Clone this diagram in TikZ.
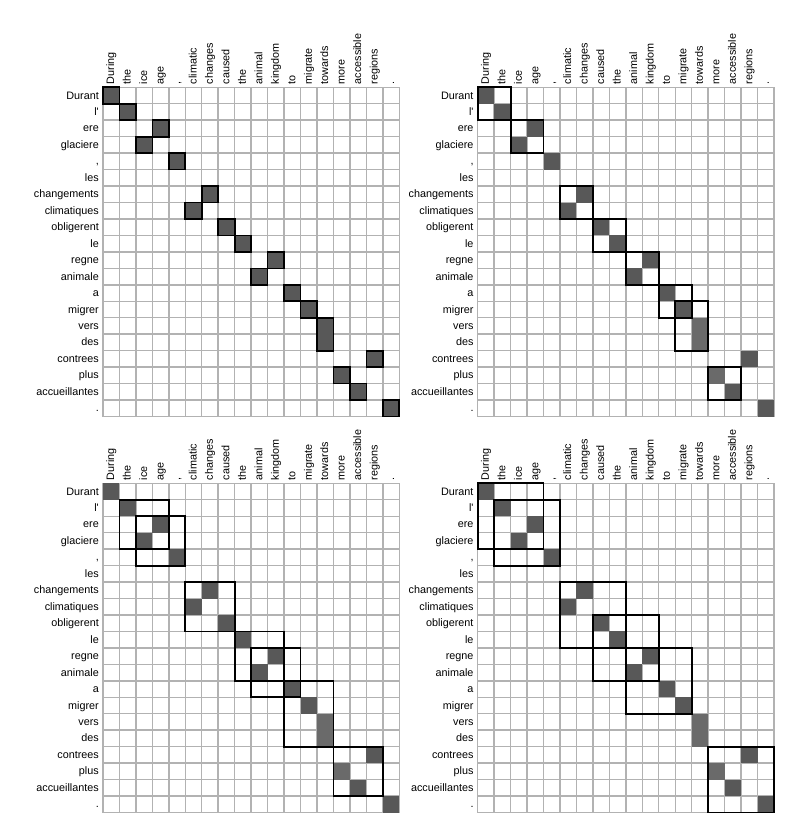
\documentclass[tikz,border=0pt]{standalone}
\usepackage{fontspec}
\setmainfont{Liberation Sans}[Ligatures=TeXOff]
\definecolor{gridgray}{HTML}{B2B2B2}
\definecolor{cellgray}{HTML}{585858}
\definecolor{lightcell}{HTML}{6A6A6A}
\newcommand\cellsz{16.46}
\tikzset{
  gridline/.style={draw=gridgray, line width=1.45pt},
  darkcell/.style={fill=cellgray},
  softcell/.style={fill=lightcell},
  boxedcell/.style={fill=cellgray, draw=black, line width=1.7pt},
  phrasebox/.style={draw=black, line width=1.8pt},
  rowlab/.style={anchor=base east, inner sep=0pt, font=\fontsize{10.8pt}{13pt}\selectfont},
  collab/.style={anchor=base west, rotate=90, inner sep=0pt, font=\fontsize{10.8pt}{13pt}\selectfont},
}
% grid + labels of one panel: #1 prefix, #2 x, #3 y
\newcommand\drawpanel[3]{%
  \begin{scope}[shift={(#2,#3)}]
    \foreach \i in {0,...,18} \draw[gridline] ({\i*\cellsz},0) -- ({\i*\cellsz},{20*\cellsz});
    \foreach \j in {0,...,20} \draw[gridline] (0,{\j*\cellsz}) -- ({18*\cellsz},{\j*\cellsz});
    \foreach \w [count=\j] in {Durant,l',ere,glaciere,{,},les,changements,climatiques,obligerent,le,regne,animale,a,migrer,vers,des,contrees,plus,accueillantes,.}
      \node[rowlab,name=#1r\j] at (-4,{(\j-0.5)*\cellsz+3.5}) {\w};
    \foreach \w [count=\i] in {During,the,ice,age,{,},climatic,changes,caused,the,animal,kingdom,to,migrate,towards,more,accessible,regions,.}
      \node[collab,name=#1c\i] at ({(\i-0.5)*\cellsz+3},-3) {\w};
  \end{scope}}
% soft filled cells for panels 2-4
\newcommand\fillpanel[2]{%
  \begin{scope}[shift={(#1,#2)}]
    \foreach \r/\c in {1/1,2/2,3/4,4/3,5/5,7/7,8/6,9/8,10/9,11/11,12/10,13/12,14/13,17/17,19/16,20/18}
      \fill[darkcell] ({(\c-1)*\cellsz},{(\r-1)*\cellsz}) rectangle ++(\cellsz,\cellsz);
    \foreach \r/\c in {15/14,16/14,18/15}
      \fill[softcell] ({(\c-1)*\cellsz},{(\r-1)*\cellsz}) rectangle ++(\cellsz,\cellsz);
  \end{scope}}
% phrase box: rows #1-#2, cols #3-#4
\newcommand\pbox[4]{\draw[phrasebox] ({(#3-1)*\cellsz},{(#1-1)*\cellsz}) rectangle ({#4*\cellsz},{#2*\cellsz});}
\begin{document}
\begin{tikzpicture}[x=1pt,y=-1pt]
  \useasboundingbox (0,0) rectangle (798,839);
  % panel 1
  \drawpanel{pa}{103}{87.3}
  \begin{scope}[shift={(103,87.3)}]
    \foreach \r/\c in {1/1,2/2,3/4,4/3,5/5,7/7,8/6,9/8,10/9,11/11,12/10,13/12,14/13,17/17,18/15,19/16,20/18}
      \filldraw[boxedcell] ({(\c-1)*\cellsz},{(\r-1)*\cellsz}) rectangle ++(\cellsz,\cellsz);
    \filldraw[boxedcell] ({13*\cellsz},{14*\cellsz}) rectangle ++(\cellsz,{2*\cellsz});
  \end{scope}
  % panel 2
  \drawpanel{pb}{477.7}{87.3}
  \fillpanel{477.7}{87.3}
  \begin{scope}[shift={(477.7,87.3)}]
    \pbox{1}{2}{1}{2}\pbox{3}{4}{3}{4}\pbox{7}{8}{6}{7}\pbox{9}{10}{8}{9}
    \pbox{11}{12}{10}{11}\pbox{13}{14}{12}{13}\pbox{14}{16}{13}{14}\pbox{18}{19}{15}{16}
  \end{scope}
  % panel 3
  \drawpanel{pc}{103}{483.3}
  \fillpanel{103}{483.3}
  \begin{scope}[shift={(103,483.3)}]
    \pbox{2}{4}{2}{4}\pbox{3}{5}{3}{5}\pbox{7}{9}{6}{8}\pbox{10}{12}{9}{11}
    \pbox{11}{13}{10}{12}\pbox{13}{16}{12}{14}\pbox{17}{19}{15}{17}
  \end{scope}
  % panel 4
  \drawpanel{pd}{477.7}{483.3}
  \fillpanel{477.7}{483.3}
  \begin{scope}[shift={(477.7,483.3)}]
    \pbox{1}{4}{1}{4}\pbox{2}{5}{2}{5}\pbox{7}{10}{6}{9}\pbox{9}{12}{8}{11}
    \pbox{11}{14}{10}{13}\pbox{17}{20}{15}{18}
  \end{scope}
\end{tikzpicture}
\end{document}
